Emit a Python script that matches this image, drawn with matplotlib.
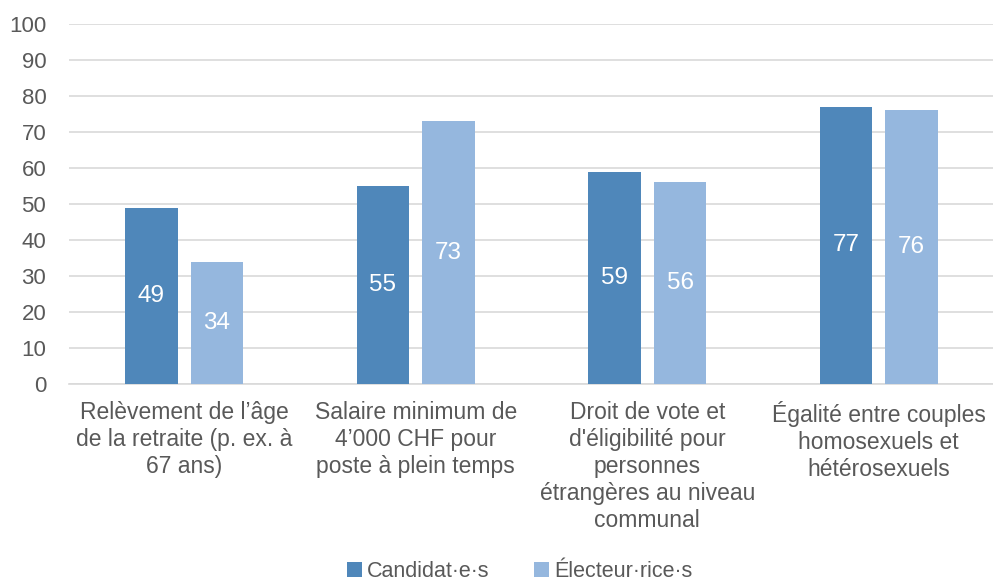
import numpy as np
import matplotlib.pyplot as plt

plt.rcParams['font.family'] = ['Liberation Sans', 'DejaVu Sans']

categories = [
    "Relèvement de l’âge\nde la retraite (p. ex. à\n67 ans)",
    "Salaire minimum de\n4’000 CHF pour\nposte à plein temps",
    "Droit de vote et\nd'éligibilité pour\npersonnes\nétrangères au niveau\ncommunal",
    "Égalité entre couples\nhomosexuels et\nhétérosexuels",
]
candidats = [49, 55, 59, 77]
electeurs = [34, 73, 56, 76]
series_names = ["Candidat·e·s", "Électeur·rice·s"]

dark = "#4F87BA"
light = "#95B7DE"
grey = "#595959"

fig = plt.figure(figsize=(9.93, 5.83), dpi=100)
ax = fig.add_axes([68.5 / 993, 199 / 583, 1 - 68.5 / 993, 360 / 583])

x = np.arange(len(categories))
w = 0.225
off = 0.1415
b1 = ax.bar(x - off, candidats, w, color=dark, label=series_names[0], zorder=3)
b2 = ax.bar(x + off, electeurs, w, color=light, label=series_names[1], zorder=3)

for bars in (b1, b2):
    for rect in bars:
        h = rect.get_height()
        ax.text(rect.get_x() + rect.get_width() / 2, h / 2, f"{h:.0f}",
                ha="center", va="center", color="white", fontsize=17.5, zorder=4)

ax.set_xlim(-0.5, 3.4935)
ax.set_ylim(0, 100)
ax.set_yticks(range(0, 101, 10))
ax.yaxis.grid(True, color="#D9D9D9", linewidth=1.2, zorder=0)
ax.set_axisbelow(True)
for s in ["top", "right", "left"]:
    ax.spines[s].set_visible(False)
ax.spines["bottom"].set_color("#D9D9D9")
ax.spines["bottom"].set_linewidth(1.2)
ax.tick_params(axis="both", length=0, colors=grey, labelsize=16)
ax.tick_params(axis="y", pad=16)
ax.tick_params(axis="x", pad=12, labelsize=16.5)
ax.set_xticks(x)
ax.set_xticklabels(categories, linespacing=1.22)

ax.legend(loc="center", bbox_to_anchor=(0.488, -0.522), bbox_transform=ax.transAxes,
          ncol=2, frameon=False, fontsize=15.5, handlelength=0.7, handleheight=0.7,
          handletextpad=0.2, columnspacing=2.1, labelcolor=grey)

fig.savefig("out.png", dpi=100)
